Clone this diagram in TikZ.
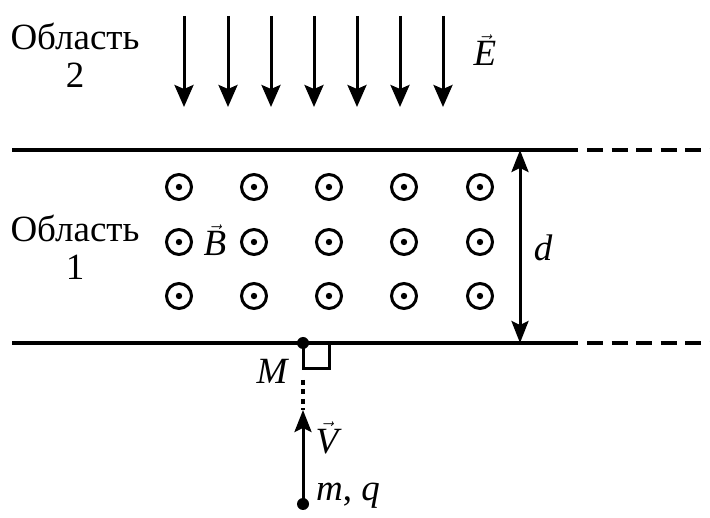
\documentclass[tikz,border=0pt]{standalone}
\usepackage{fontspec}
\setmainfont{Liberation Serif}
\usetikzlibrary{positioning,arrows.meta}
\tikzset{
  plate/.style={line width=3.6pt},
  plate ext/.style={line width=3.6pt, dash pattern=on 16pt off 8.5pt},
  field arrow/.style={line width=3pt, -{Stealth[length=22pt,width=19pt,inset=4pt]}},
  b circle/.style={circle, draw, line width=3pt, minimum size=25pt, inner sep=0pt},
  point/.style={circle, fill, inner sep=0pt, minimum size=12pt},
  label text/.style={align=center, inner sep=0pt}
}
\newcommand{\vecit}[1]{$\vec{\mbox{\itshape #1}}$}
\begin{document}
\begin{tikzpicture}[x=1pt, y=-1pt, >={Stealth[length=22pt,width=17pt,inset=4pt]},
  font=\rmfamily\fontsize{37}{41}\selectfont]
\useasboundingbox (0,0) rectangle (710,518);
% plates
\foreach \y [count=\i] in {150,343} {
  \coordinate (plate-\i-l) at (12,\y);
  \coordinate (plate-\i-r) at (578,\y);
  \coordinate (plate-\i-e) at (710,\y);
  \draw [plate] (plate-\i-l) -- (plate-\i-r);
  \draw [plate ext] (plate-\i-r) ++(9,0) -- (plate-\i-e);
}
% electric field
\foreach \x [count=\i] in {184,228,271,314,357,400,443} {
  \coordinate (e-top-\i) at (\x,16);
  \coordinate (e-bot-\i) at (\x,107);
  \draw [field arrow] (e-top-\i) -- (e-bot-\i);
}
\node [label text] (e-label) at (485,50) {\vecit{E}};
% magnetic field
\foreach \y [count=\r] in {187,242,296}
  \foreach \x [count=\c] in {179,254,329,404,480} {
    \node [b circle] (b-\r-\c) at (\x,\y) {};
    \fill (b-\r-\c) circle (3.2pt);
  }
\node [label text] (b-label) at (215,240) {\vecit{B}};
% regions
\node [label text] (region-2) at (75,55) {Область\\[-3pt]2};
\node [label text] (region-1) at (75,247) {Область\\[-3pt]1};
% width of the region
\coordinate (d-top) at (520,150);
\coordinate (d-bot) at (520,343);
\draw [line width=3pt, <->] (d-top) -- (d-bot);
\node [label text] (d-label) at (543,248) {\itshape d};
% particle
\node [point] (M) at (303,343) {};
\draw [line width=3pt] (M.center) rectangle ++(26,26);
\node [label text] (M-label) at (272,371) {\itshape M};
\node [point] (particle) at (303,504) {};
\coordinate (v-tip) at (303,410);
\coordinate (dots-top) at (303,380);
\draw [line width=3pt, ->] (particle.center) -- (v-tip);
\draw [line width=4.5pt, dash pattern=on 5pt off 4.5pt] (dots-top) -- (v-tip);
\node [label text] (v-label) at (327,438) {\vecit{V}};
\node [label text, anchor=west] (mq-label) at (316,496) {\itshape m\upshape, \itshape q};
\end{tikzpicture}
\end{document}
